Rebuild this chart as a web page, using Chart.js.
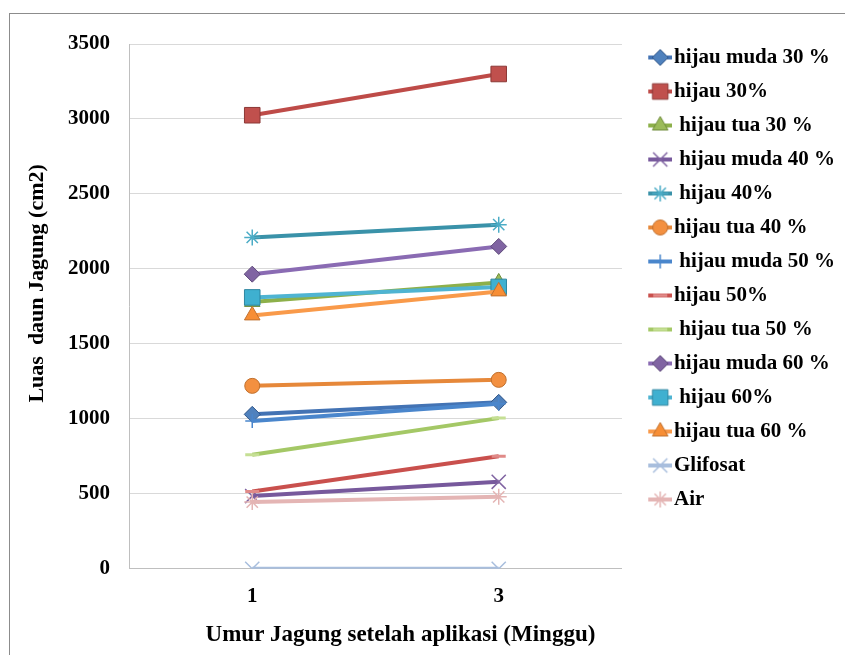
<!DOCTYPE html>
<html lang="id">
<head>
<meta charset="UTF-8">
<title>Luas daun Jagung</title>
<script src="https://cdn.jsdelivr.net/npm/chart.js"></script>
<style>
    body {
        margin: 0;
        background: #fff;
    }
    .wrap {
        position: relative;
        width: 845px;
        height: 655px;
        overflow: hidden;
    }
    .frame {
        position: absolute;
        left: 9px;
        top: 13px;
        width: 900px;
        height: 700px;
        border: 1px solid #8c8c8c;
    }
    canvas {
        position: absolute;
        left: 0;
        top: 0;
    }
</style>
</head>
<body>
<div class="wrap">
    <div class="frame"></div>
    <canvas id="chart" width="845" height="655"></canvas>
</div>

<script>
    // minggu setelah aplikasi
    var weeks = ['1', '3'];
    var yTickValues = [0, 500, 1000, 1500, 2000, 2500, 3000, 3500];

    var seriesNames = [
        'hijau muda 30 %', 'hijau 30%', ' hijau tua 30 %', ' hijau muda 40 %', ' hijau 40%',
        'hijau tua 40 %', ' hijau muda 50 %', 'hijau 50%', ' hijau tua 50 %', 'hijau muda 60 %',
        ' hijau 60%', 'hijau tua 60 %', 'Glifosat', 'Air'
    ];

    // luas daun (cm2)
    var hijauMuda30 = [1030, 1110];
    var hijau30 = [3025, 3300];
    var hijauTua30 = [1780, 1910];
    var hijauMuda40 = [485, 580];
    var hijau40 = [2210, 2295];
    var hijauTua40 = [1220, 1260];
    var hijauMuda50 = [985, 1100];
    var hijau50 = [515, 750];
    var hijauTua50 = [760, 1005];
    var hijauMuda60 = [1965, 2150];
    var hijau60 = [1810, 1880];
    var hijauTua60 = [1690, 1850];
    var glifosat = [0, 0];
    var air = [445, 480];

    var seriesValues = [hijauMuda30, hijau30, hijauTua30, hijauMuda40, hijau40, hijauTua40,
        hijauMuda50, hijau50, hijauTua50, hijauMuda60, hijau60, hijauTua60, glifosat, air];

    var xTitle = 'Umur Jagung setelah aplikasi (Minggu)';
    var yTitle = 'Luas  daun Jagung (cm2)';

    var styles = [
        { line: '#4373B4', fill: '#4F81BD', edge: '#2F5587', marker: 'rectRot', size: 8, edgeWidth: 1 },
        { line: '#BE4B48', fill: '#C0504D', edge: '#8C3836', marker: 'rect', size: 11, edgeWidth: 1 },
        { line: '#8DB04A', fill: '#9BBB59', edge: '#6E8B3A', marker: 'triangle', size: 9, edgeWidth: 1 },
        { line: '#77599C', fill: '#8064A2', edge: '#8064A2', marker: 'crossRot', size: 10, edgeWidth: 1.5 },
        { line: '#3A92A9', fill: '#4BACC6', edge: '#4BACC6', marker: 'star', size: 8, edgeWidth: 1.5 },
        { line: '#E6883A', fill: '#F39040', edge: '#C0702E', marker: 'circle', size: 7.5, edgeWidth: 1 },
        { line: '#4A86CC', fill: '#4A86CC', edge: '#4A86CC', marker: 'cross', size: 7, edgeWidth: 1.5 },
        { line: '#C9504D', fill: '#D86A67', edge: '#E08A88', marker: 'line', size: 7, edgeWidth: 3 },
        { line: '#A4C866', fill: '#B8D67E', edge: '#C5DF94', marker: 'line', size: 7, edgeWidth: 3 },
        { line: '#8A6BB3', fill: '#8064A2', edge: '#5E4A7A', marker: 'rectRot', size: 8, edgeWidth: 1 },
        { line: '#4FB4D2', fill: '#3FB0D0', edge: '#2E86A0', marker: 'rect', size: 11, edgeWidth: 1 },
        { line: '#F99A4A', fill: '#F78E35', edge: '#C0702E', marker: 'triangle', size: 9, edgeWidth: 1 },
        { line: '#A8BEDD', fill: '#A8BEDD', edge: '#A8BEDD', marker: 'crossRot', size: 10, edgeWidth: 1.5 },
        { line: '#E4B5B4', fill: '#E4B5B4', edge: '#E4B5B4', marker: 'star', size: 8, edgeWidth: 1.5 }
    ];

    var serifFont = '"Liberation Serif", "Times New Roman", serif';

    // small line + marker picture for each legend entry
    function legendIcon(s) {
        var c = document.createElement('canvas');
        c.width = 46;
        c.height = 22;
        var g = c.getContext('2d');
        g.strokeStyle = s.line;
        g.lineWidth = 4;
        g.beginPath();
        g.moveTo(22, 11);
        g.lineTo(46, 11);
        g.stroke();
        g.fillStyle = s.fill;
        g.strokeStyle = s.edge;
        g.lineWidth = s.edgeWidth;
        Chart.helpers.drawPoint(g, { pointStyle: s.marker, radius: s.size, rotation: 0, borderWidth: s.edgeWidth }, 34, 11);
        return c;
    }

    var icons = styles.map(legendIcon);

    var datasets = seriesNames.map(function (name, i) {
        var s = styles[i];
        return {
            label: name,
            data: seriesValues[i],
            borderColor: s.line,
            backgroundColor: s.fill,
            borderWidth: 4,
            tension: 0,
            pointStyle: s.marker,
            pointRadius: s.size,
            pointHoverRadius: s.size,
            pointBackgroundColor: s.fill,
            pointBorderColor: s.edge,
            pointBorderWidth: s.edgeWidth,
            order: seriesNames.length - i   // later series on top
        };
    });

    var axisTitles = {
        id: 'axisTitles',
        afterDraw: function (chart) {
            var ctx = chart.ctx;
            var area = chart.chartArea;
            ctx.save();
            ctx.fillStyle = '#000';
            ctx.textAlign = 'center';
            ctx.textBaseline = 'middle';
            ctx.font = 'bold 23px ' + serifFont;
            ctx.fillText(xTitle, (area.left + area.right) / 2 + 25, area.bottom + 66);
            ctx.font = 'bold 22px ' + serifFont;
            ctx.translate(37, (area.top + area.bottom) / 2 - 23);
            ctx.rotate(-Math.PI / 2);
            ctx.fillText(yTitle, 0, 0);
            ctx.restore();
        }
    };

    new Chart(document.getElementById('chart').getContext('2d'), {
        type: 'line',
        data: {
            labels: weeks,
            datasets: datasets
        },
        options: {
            responsive: false,
            animation: false,
            devicePixelRatio: 1,
            layout: {
                padding: { left: 49, top: 34, right: 0, bottom: 31 }
            },
            scales: {
                x: {
                    offset: true,
                    grid: { display: false, drawTicks: false },
                    border: { display: true, color: '#bfbfbf', width: 1 },
                    ticks: {
                        padding: 15,
                        color: '#000',
                        font: { family: serifFont, size: 21, weight: 'bold' }
                    }
                },
                y: {
                    min: 0,
                    max: 3500,
                    afterBuildTicks: function (axis) {
                        axis.ticks = yTickValues.map(function (v) { return { value: v }; });
                    },
                    afterFit: function (axis) {
                        // keep room above the plot while the legend starts higher
                        axis.paddingTop = Math.max(axis.paddingTop, 44);
                    },
                    grid: { color: '#d9d9d9', drawTicks: false },
                    border: { display: true, color: '#bfbfbf', width: 1 },
                    ticks: {
                        padding: 19,
                        color: '#000',
                        font: { family: serifFont, size: 21, weight: 'bold' },
                        callback: function (value) { return String(value); }
                    }
                }
            },
            plugins: {
                legend: {
                    position: 'right',
                    align: 'start',
                    maxWidth: 260,
                    labels: {
                        usePointStyle: true,
                        pointStyleWidth: 28.5,
                        padding: 13,
                        color: '#000',
                        font: { family: serifFont, size: 21, weight: 'bold' },
                        generateLabels: function (chart) {
                            return chart.data.datasets.map(function (ds, i) {
                                return {
                                    text: ds.label,
                                    pointStyle: icons[i],
                                    fillStyle: ds.backgroundColor,
                                    strokeStyle: ds.borderColor,
                                    lineWidth: 0,
                                    hidden: !chart.isDatasetVisible(i),
                                    datasetIndex: i
                                };
                            });
                        }
                    }
                },
                tooltip: { enabled: true }
            }
        },
        plugins: [axisTitles]
    });
</script>
</body>
</html>
